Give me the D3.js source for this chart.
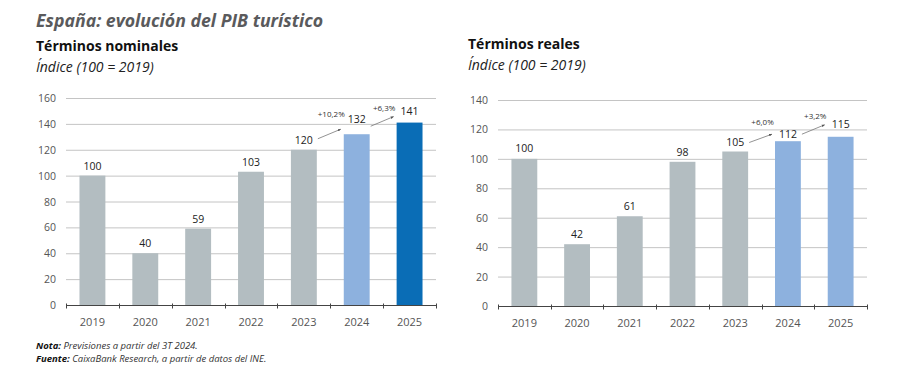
<!DOCTYPE html>
<html>
<head>
<meta charset="utf-8">
<title>PIB turístico</title>
<style>
body { margin: 0; background: #fff; font-family: 'Open Sans', sans-serif; }
svg { display: block; }
.tick-label { fill: #555; font-size: 10.5px; }
.value { fill: #222; font-size: 10.5px; }
.growth { fill: #333; font-size: 8px; }
</style>
<script src="https://cdn.jsdelivr.net/npm/d3@7"></script>
</head>
<body>
<script>
var years = ["2019", "2020", "2021", "2022", "2023", "2024", "2025"];
var nominal = [100, 40, 59, 103, 120, 132, 141];
var real = [100, 42, 61, 98, 105, 112, 115];
var nominalColors = ["#b3bdc1", "#b3bdc1", "#b3bdc1", "#b3bdc1", "#b3bdc1", "#8db1de", "#0a6db6"];
var realColors = ["#b3bdc1", "#b3bdc1", "#b3bdc1", "#b3bdc1", "#b3bdc1", "#8db1de", "#8db1de"];
var nominalTicks = [0, 20, 40, 60, 80, 100, 120, 140, 160];
var realTicks = [0, 20, 40, 60, 80, 100, 120, 140];
var nominalGrowth = [["2023", "2024", "+10,2%"], ["2024", "2025", "+6,3%"]];
var realGrowth = [["2023", "2024", "+6,0%"], ["2024", "2025", "+3,2%"]];

var width = 900, height = 392;

var svg = d3.select("body").append("svg")
    .attr("width", width)
    .attr("height", height);

var defs = svg.append("defs");
defs.append("marker")
    .attr("id", "head")
    .attr("viewBox", "0 0 10 10")
    .attr("refX", 9).attr("refY", 5)
    .attr("markerWidth", 4).attr("markerHeight", 4)
    .attr("orient", "auto")
    .append("path")
    .attr("d", "M0,1 L10,5 L0,9 Z")
    .attr("fill", "#555");

// headings
svg.append("text")
    .attr("x", 36).attr("y", 27)
    .style("font-size", "17.7px").style("font-weight", "bold").style("font-style", "italic")
    .style("fill", "#5a5a5c")
    .text("España: evolución del PIB turístico");

function header(x, y, title) {
    svg.append("text")
        .attr("x", x).attr("y", y)
        .style("font-size", "14px").style("font-weight", "bold").style("fill", "#111")
        .text(title);
    svg.append("text")
        .attr("x", x).attr("y", y + 21)
        .style("font-size", "14px").style("font-style", "italic").style("fill", "#222")
        .text("Índice (100 = 2019)");
}
header(36, 51, "Términos nominales");
header(468, 49, "Términos reales");

function drawChart(opts) {
    var g = svg.append("g");

    var x = d3.scaleBand()
        .domain(years)
        .range(opts.xRange)
        .paddingInner(0.51)
        .paddingOuter(0.255);

    var y = d3.scaleLinear()
        .domain([0, d3.max(opts.ticks)])
        .range(opts.yRange);

    // gridlines
    g.selectAll(".grid")
        .data(opts.ticks.slice(1))
        .enter().append("line")
        .attr("x1", opts.xRange[0]).attr("x2", opts.xRange[1])
        .attr("y1", function (d) { return y(d) + 0.5; })
        .attr("y2", function (d) { return y(d) + 0.5; })
        .attr("stroke", "#c4c4c4")
        .attr("stroke-width", 1);

    // y labels
    g.selectAll(".ylab")
        .data(opts.ticks)
        .enter().append("text")
        .attr("class", "tick-label")
        .attr("x", opts.xRange[0] - 10)
        .attr("y", function (d) { return y(d) + 4; })
        .attr("text-anchor", "end")
        .text(function (d) { return d; });

    // bars
    g.selectAll(".bar")
        .data(opts.values)
        .enter().append("rect")
        .attr("x", function (d, i) { return x(years[i]); })
        .attr("width", x.bandwidth())
        .attr("y", function (d) { return y(d); })
        .attr("height", function (d) { return y(0) - y(d); })
        .attr("fill", function (d, i) { return opts.colors[i]; });

    // value labels
    g.selectAll(".value")
        .data(opts.values)
        .enter().append("text")
        .attr("class", "value")
        .attr("x", function (d, i) { return x(years[i]) + x.bandwidth() / 2; })
        .attr("y", function (d, i) { return y(d) - 6 - (opts.nudge[i] || 0); })
        .attr("text-anchor", "middle")
        .text(function (d) { return d; });

    // axis
    var axisG = g.append("g")
        .attr("transform", "translate(0," + (y(0) + 0.5) + ")");
    axisG.append("line")
        .attr("x1", opts.xRange[0]).attr("x2", opts.xRange[1])
        .attr("stroke", "#444");
    var edges = years.map(function (d) { return x(d) - x.step() * x.paddingInner() / 2; });
    edges.push(opts.xRange[1]);
    axisG.selectAll(".tk")
        .data(edges)
        .enter().append("line")
        .attr("x1", function (d) { return Math.round(d) + 0.5; })
        .attr("x2", function (d) { return Math.round(d) + 0.5; })
        .attr("y1", -2).attr("y2", 3)
        .attr("stroke", "#444");
    axisG.selectAll(".xlab")
        .data(years)
        .enter().append("text")
        .attr("class", "tick-label")
        .attr("x", function (d) { return x(d) + x.bandwidth() / 2; })
        .attr("y", 20)
        .attr("text-anchor", "middle")
        .style("font-size", "11px")
        .text(function (d) { return d; });

    // growth arrows
    opts.growth.forEach(function (gr, k) {
        var a = years.indexOf(gr[0]), b = years.indexOf(gr[1]);
        var x1 = x(gr[0]) + x.bandwidth() / 2 + 14,
            y1 = y(opts.values[a]) - opts.arrowStart[k],
            x2 = x(gr[1]) + x.bandwidth() / 2 - 16,
            y2 = y(opts.values[b]) - opts.arrowEnd[k];
        g.append("line")
            .attr("x1", x1).attr("y1", y1)
            .attr("x2", x2).attr("y2", y2)
            .attr("stroke", "#777")
            .attr("stroke-width", 0.8)
            .attr("marker-end", "url(#head)");
        g.append("text")
            .attr("class", "growth")
            .attr("x", (x1 + x2) / 2 + 2)
            .attr("y", (y1 + y2) / 2 - opts.growthLift[k])
            .attr("text-anchor", "middle")
            .text(gr[2]);
    });
}

drawChart({
    values: nominal,
    colors: nominalColors,
    ticks: nominalTicks,
    growth: nominalGrowth,
    xRange: [66, 436],
    yRange: [305, 98],
    nudge: [0, 0, 0, 0, 0, 5, 2],
    arrowStart: [11, 8],
    arrowEnd: [5, 6],
    growthLift: [17, 10]
});

drawChart({
    values: real,
    colors: realColors,
    ticks: realTicks,
    growth: realGrowth,
    xRange: [498, 867],
    yRange: [306, 100],
    nudge: [1, 0, 0, 0, 0, -3, 3],
    arrowStart: [9, 7],
    arrowEnd: [7, 12],
    growthLift: [13, 10]
});

// notes
var note = svg.append("text")
    .attr("x", 36).attr("y", 349)
    .style("font-size", "9.5px").style("font-style", "italic").style("fill", "#333");
note.append("tspan").style("font-weight", "bold").style("fill", "#111").text("Nota: ");
note.append("tspan").text("Previsiones a partir del 3T 2024.");

var src = svg.append("text")
    .attr("x", 36).attr("y", 362)
    .style("font-size", "9.5px").style("font-style", "italic").style("fill", "#333");
src.append("tspan").style("font-weight", "bold").style("fill", "#111").text("Fuente: ");
src.append("tspan").text("CaixaBank Research, a partir de datos del INE.");
</script>
</body>
</html>
